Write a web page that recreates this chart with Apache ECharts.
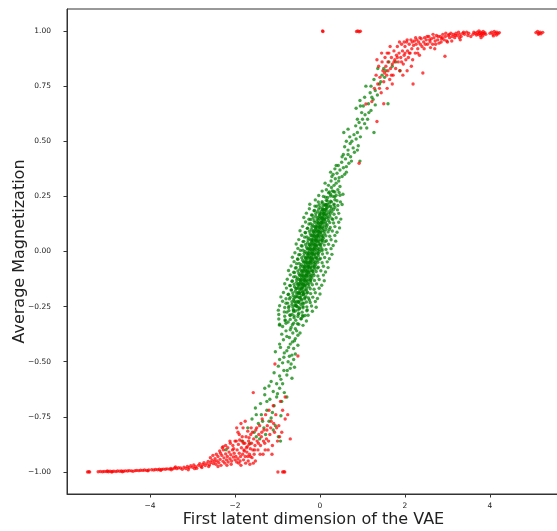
<!DOCTYPE html>
<html>
<head>
<meta charset="utf-8">
<script src="https://cdn.jsdelivr.net/npm/echarts@6/dist/echarts.min.js"></script>
<style>
  html, body { margin: 0; padding: 0; background: #fff; }
  #chart { width: 557px; height: 531px; }
</style>
</head>
<body>
<div id="chart"></div>
<script>
// Tick values
const xTicks = [-4, -2, 0, 2, 4];
const yTicks = [-1, -0.75, -0.5, -0.25, 0, 0.25, 0.5, 0.75, 1];

// Green samples: dense central band
const greenCore = [
[-0.82,-0.31],[-0.70,-0.29],[-0.61,-0.30],[-0.52,-0.295],[-0.44,-0.305],[-0.35,-0.29],
[-0.78,-0.275],[-0.66,-0.285],[-0.58,-0.27],[-0.50,-0.28],[-0.41,-0.29],[-0.62,-0.265],
[-0.74,-0.255],[-0.63,-0.265],[-0.55,-0.25],[-0.48,-0.26],[-0.40,-0.255],[-0.30,-0.265],[-0.59,-0.245],
[-0.80,-0.235],[-0.66,-0.24],[-0.57,-0.245],[-0.51,-0.23],[-0.45,-0.24],[-0.38,-0.235],[-0.53,-0.25],[-0.60,-0.228],
[-0.72,-0.215],[-0.62,-0.22],[-0.54,-0.225],[-0.48,-0.21],[-0.43,-0.22],[-0.36,-0.215],[-0.50,-0.23],[-0.58,-0.205],[-0.25,-0.22],
[-0.75,-0.195],[-0.63,-0.2],[-0.55,-0.205],[-0.49,-0.19],[-0.44,-0.2],[-0.39,-0.195],[-0.33,-0.205],[-0.47,-0.21],[-0.52,-0.188],[-0.41,-0.185],
[-0.68,-0.175],[-0.58,-0.18],[-0.51,-0.185],[-0.45,-0.17],[-0.40,-0.18],[-0.35,-0.175],[-0.29,-0.185],[-0.48,-0.19],[-0.43,-0.165],[-0.55,-0.168],[-0.38,-0.19],
[-0.70,-0.155],[-0.60,-0.16],[-0.52,-0.165],[-0.46,-0.15],[-0.41,-0.16],[-0.37,-0.155],[-0.32,-0.165],[-0.26,-0.16],[-0.44,-0.17],[-0.39,-0.148],[-0.49,-0.158],[-0.34,-0.15],
[-0.66,-0.135],[-0.55,-0.14],[-0.49,-0.145],[-0.43,-0.13],[-0.38,-0.14],[-0.34,-0.135],[-0.29,-0.145],[-0.22,-0.14],[-0.41,-0.15],[-0.36,-0.128],[-0.46,-0.138],[-0.31,-0.13],[-0.52,-0.148],
[-0.62,-0.115],[-0.53,-0.12],[-0.46,-0.125],[-0.40,-0.11],[-0.35,-0.12],[-0.31,-0.115],[-0.26,-0.125],[-0.19,-0.12],[-0.38,-0.13],[-0.33,-0.108],[-0.43,-0.118],[-0.28,-0.11],[-0.49,-0.128],[-0.23,-0.13],
[-0.60,-0.095],[-0.50,-0.1],[-0.43,-0.105],[-0.37,-0.09],[-0.32,-0.1],[-0.28,-0.095],[-0.23,-0.105],[-0.16,-0.1],[-0.35,-0.11],[-0.30,-0.088],[-0.40,-0.098],[-0.25,-0.09],[-0.46,-0.108],[-0.20,-0.11],
[-0.58,-0.075],[-0.47,-0.08],[-0.40,-0.085],[-0.34,-0.07],[-0.29,-0.08],[-0.25,-0.075],[-0.20,-0.085],[-0.13,-0.08],[-0.32,-0.09],[-0.27,-0.068],[-0.37,-0.078],[-0.22,-0.07],[-0.43,-0.088],[-0.17,-0.09],[-0.06,-0.075],
[-0.55,-0.055],[-0.44,-0.06],[-0.37,-0.065],[-0.31,-0.05],[-0.26,-0.06],[-0.22,-0.055],[-0.17,-0.065],[-0.10,-0.06],[-0.29,-0.07],[-0.24,-0.048],[-0.34,-0.058],[-0.19,-0.05],[-0.40,-0.068],[-0.14,-0.07],
[-0.52,-0.035],[-0.41,-0.04],[-0.34,-0.045],[-0.28,-0.03],[-0.23,-0.04],[-0.19,-0.035],[-0.14,-0.045],[-0.07,-0.04],[-0.26,-0.05],[-0.21,-0.028],[-0.31,-0.038],[-0.16,-0.03],[-0.37,-0.048],[-0.11,-0.05],[-0.01,-0.035],
[-0.50,-0.015],[-0.38,-0.02],[-0.31,-0.025],[-0.25,-0.01],[-0.20,-0.02],[-0.16,-0.015],[-0.11,-0.025],[-0.04,-0.02],[-0.23,-0.03],[-0.18,-0.008],[-0.28,-0.018],[-0.13,-0.01],[-0.34,-0.028],[-0.08,-0.03],
[-0.46,0.005],[-0.35,0.0],[-0.28,-0.005],[-0.22,0.01],[-0.17,0.0],[-0.13,0.005],[-0.08,-0.005],[-0.01,0.0],[-0.20,-0.01],[-0.15,0.012],[-0.25,0.002],[-0.10,0.01],[-0.31,-0.008],[-0.05,-0.01],[0.05,0.004],
[-0.42,0.025],[-0.32,0.02],[-0.25,0.015],[-0.19,0.03],[-0.14,0.02],[-0.10,0.025],[-0.05,0.015],[0.02,0.02],[-0.17,0.01],[-0.12,0.032],[-0.22,0.022],[-0.07,0.03],[-0.28,0.012],[-0.02,0.01],
[-0.40,0.045],[-0.29,0.04],[-0.22,0.035],[-0.16,0.05],[-0.11,0.04],[-0.07,0.045],[-0.02,0.035],[0.05,0.04],[-0.14,0.03],[-0.09,0.052],[-0.19,0.042],[-0.04,0.05],[-0.25,0.032],[0.01,0.03],[0.12,0.045],
[-0.36,0.065],[-0.26,0.06],[-0.19,0.055],[-0.13,0.07],[-0.08,0.06],[-0.04,0.065],[0.01,0.055],[0.08,0.06],[-0.11,0.05],[-0.06,0.072],[-0.16,0.062],[-0.01,0.07],[-0.22,0.052],[0.04,0.05],
[-0.34,0.085],[-0.23,0.08],[-0.16,0.075],[-0.10,0.09],[-0.05,0.08],[-0.01,0.085],[0.04,0.075],[0.11,0.08],[-0.08,0.07],[-0.03,0.092],[-0.13,0.082],[0.02,0.09],[-0.19,0.072],[0.07,0.07],
[-0.30,0.105],[-0.20,0.1],[-0.13,0.095],[-0.07,0.11],[-0.02,0.1],[0.02,0.105],[0.07,0.095],[0.14,0.1],[-0.05,0.09],[0.0,0.112],[-0.10,0.102],[0.05,0.11],[-0.16,0.092],[0.22,0.1],
[-0.26,0.125],[-0.17,0.12],[-0.10,0.115],[-0.04,0.13],[0.01,0.12],[0.05,0.125],[0.10,0.115],[0.17,0.12],[-0.02,0.11],[0.03,0.132],[-0.07,0.122],[0.08,0.13],[-0.13,0.112],
[-0.22,0.145],[-0.14,0.14],[-0.07,0.135],[-0.01,0.15],[0.04,0.14],[0.08,0.145],[0.13,0.135],[0.20,0.14],[0.01,0.13],[0.06,0.152],[-0.04,0.142],[0.11,0.15],[0.30,0.145],
[-0.18,0.165],[-0.10,0.16],[-0.04,0.155],[0.02,0.17],[0.07,0.16],[0.11,0.165],[0.16,0.155],[0.23,0.16],[0.04,0.15],[0.09,0.172],[-0.01,0.162],[0.14,0.17],
[-0.14,0.185],[-0.06,0.18],[0.0,0.175],[0.06,0.19],[0.11,0.18],[0.15,0.185],[0.20,0.175],[0.28,0.18],[0.08,0.17],[0.13,0.192],[0.03,0.182],
[-0.08,0.205],[0.0,0.2],[0.06,0.195],[0.12,0.21],[0.17,0.2],[0.21,0.205],[0.27,0.195],[0.35,0.2],[0.10,0.19],[0.15,0.212],
[-0.04,0.225],[0.05,0.22],[0.11,0.215],[0.17,0.23],[0.22,0.22],[0.27,0.225],[0.33,0.215],[0.14,0.21],[0.40,0.23]
];

// Green samples: wider halo around the central band
const greenHalo = [
[-0.95,-0.334],[-0.80,-0.326],[-0.65,-0.332],[-0.53,-0.328],[-0.40,-0.335],
[-0.97,-0.306],[-0.82,-0.314],[-0.70,-0.308],[-0.57,-0.312],[-0.45,-0.305],[-0.32,-0.315],
[-0.97,-0.286],[-0.83,-0.294],[-0.71,-0.288],[-0.61,-0.292],[-0.51,-0.285],[-0.40,-0.295],[-0.28,-0.289],
[-0.98,-0.266],[-0.84,-0.274],[-0.73,-0.268],[-0.62,-0.272],[-0.52,-0.265],[-0.42,-0.275],[-0.31,-0.269],[-0.18,-0.271],
[-0.95,-0.246],[-0.83,-0.254],[-0.73,-0.248],[-0.64,-0.252],[-0.56,-0.245],[-0.48,-0.255],[-0.40,-0.249],[-0.31,-0.251],[-0.20,-0.247],[-0.09,-0.253],
[-0.88,-0.226],[-0.76,-0.234],[-0.66,-0.228],[-0.57,-0.232],[-0.49,-0.225],[-0.41,-0.235],[-0.32,-0.229],[-0.23,-0.231],[-0.11,-0.227],
[-0.92,-0.206],[-0.80,-0.214],[-0.70,-0.208],[-0.61,-0.212],[-0.52,-0.205],[-0.44,-0.215],[-0.36,-0.209],[-0.27,-0.211],[-0.17,-0.207],[-0.06,-0.213],
[-0.86,-0.186],[-0.74,-0.194],[-0.64,-0.188],[-0.55,-0.192],[-0.47,-0.185],[-0.39,-0.195],[-0.31,-0.189],[-0.22,-0.191],[-0.11,-0.187],[0.0,-0.193],
[-0.79,-0.166],[-0.67,-0.174],[-0.57,-0.168],[-0.48,-0.172],[-0.40,-0.165],[-0.32,-0.175],[-0.23,-0.169],[-0.14,-0.171],[-0.02,-0.167],
[-0.83,-0.146],[-0.71,-0.154],[-0.61,-0.148],[-0.52,-0.152],[-0.43,-0.145],[-0.35,-0.155],[-0.27,-0.149],[-0.18,-0.151],[-0.08,-0.147],[0.04,-0.153],
[-0.77,-0.126],[-0.65,-0.134],[-0.55,-0.128],[-0.46,-0.132],[-0.38,-0.125],[-0.30,-0.135],[-0.22,-0.129],[-0.13,-0.131],[-0.02,-0.127],[0.10,-0.133],
[-0.70,-0.106],[-0.58,-0.114],[-0.48,-0.108],[-0.39,-0.112],[-0.31,-0.105],[-0.23,-0.115],[-0.14,-0.109],[-0.05,-0.111],[0.08,-0.107],
[-0.74,-0.086],[-0.62,-0.094],[-0.52,-0.088],[-0.43,-0.092],[-0.34,-0.085],[-0.26,-0.095],[-0.18,-0.089],[-0.09,-0.091],[0.02,-0.087],[0.13,-0.093],
[-0.68,-0.066],[-0.56,-0.074],[-0.46,-0.068],[-0.37,-0.072],[-0.29,-0.065],[-0.21,-0.075],[-0.13,-0.069],[-0.04,-0.071],[0.08,-0.067],[0.19,-0.073],
[-0.61,-0.046],[-0.49,-0.054],[-0.39,-0.048],[-0.30,-0.052],[-0.22,-0.045],[-0.14,-0.055],[-0.05,-0.049],[0.05,-0.051],[0.17,-0.047],
[-0.65,-0.026],[-0.53,-0.034],[-0.43,-0.028],[-0.34,-0.032],[-0.25,-0.025],[-0.17,-0.035],[-0.09,-0.029],[0.01,-0.031],[0.11,-0.027],[0.22,-0.033],
[-0.59,-0.006],[-0.47,-0.014],[-0.37,-0.008],[-0.28,-0.012],[-0.20,-0.005],[-0.12,-0.015],[-0.04,-0.009],[0.06,-0.011],[0.17,-0.007],[0.28,-0.013],
[-0.52,0.014],[-0.40,0.006],[-0.30,0.012],[-0.21,0.008],[-0.13,0.015],[-0.05,0.005],[0.05,0.011],[0.14,0.009],[0.26,0.013],
[-0.56,0.034],[-0.44,0.026],[-0.34,0.032],[-0.25,0.028],[-0.16,0.035],[-0.08,0.025],[0.0,0.031],[0.10,0.029],[0.20,0.033],[0.31,0.027],
[-0.50,0.054],[-0.38,0.046],[-0.28,0.052],[-0.19,0.048],[-0.11,0.055],[-0.03,0.045],[0.06,0.051],[0.15,0.049],[0.26,0.053],[0.37,0.047],
[-0.43,0.074],[-0.31,0.066],[-0.21,0.072],[-0.12,0.068],[-0.04,0.075],[0.05,0.065],[0.14,0.071],[0.23,0.069],[0.35,0.073],
[-0.47,0.094],[-0.35,0.086],[-0.25,0.092],[-0.16,0.088],[-0.07,0.095],[0.02,0.085],[0.10,0.091],[0.19,0.089],[0.29,0.093],[0.40,0.087],
[-0.41,0.114],[-0.29,0.106],[-0.19,0.112],[-0.10,0.108],[-0.02,0.115],[0.07,0.105],[0.15,0.111],[0.24,0.109],[0.35,0.113],[0.46,0.107],
[-0.34,0.134],[-0.22,0.126],[-0.12,0.132],[-0.03,0.128],[0.06,0.135],[0.14,0.125],[0.23,0.131],[0.32,0.129],[0.44,0.133],
[-0.38,0.154],[-0.26,0.146],[-0.16,0.152],[-0.07,0.148],[0.03,0.155],[0.11,0.145],[0.19,0.151],[0.28,0.149],[0.38,0.153],[0.49,0.147],
[-0.32,0.174],[-0.20,0.166],[-0.10,0.172],[-0.01,0.168],[0.08,0.175],[0.16,0.165],[0.24,0.171],[0.33,0.169],[0.44,0.173],
[-0.25,0.194],[-0.13,0.186],[-0.03,0.192],[0.07,0.188],[0.15,0.195],[0.23,0.185],[0.32,0.191],[0.41,0.189],
[-0.24,0.214],[-0.12,0.206],[-0.02,0.212],[0.07,0.208],[0.17,0.215],[0.25,0.205],[0.33,0.211],[0.42,0.209],[0.52,0.213],
[-0.11,0.234],[0.05,0.226],[0.15,0.232],[0.25,0.228],[0.35,0.235],[0.48,0.225],
[-0.03,0.254],[0.13,0.246],[0.25,0.252],[0.35,0.248],[0.47,0.255],
[0.05,0.274],[0.2,0.266],[0.32,0.272],[0.45,0.268]
];

// Green samples: upper branch
const greenUpper = [
[0.08,0.25],[0.18,0.245],[0.25,0.26],[0.31,0.25],[0.38,0.255],[0.22,0.27],[0.29,0.275],[0.35,0.27],[0.15,0.28],[0.42,0.28],[0.27,0.29],[0.33,0.3],[0.47,0.295],[0.20,0.3],[0.38,0.31],[0.54,0.26],
[0.26,0.32],[0.36,0.33],[0.44,0.32],[0.52,0.34],[0.31,0.35],[0.40,0.355],[0.58,0.35],[0.47,0.37],[0.35,0.375],[0.55,0.38],[0.62,0.385],[0.43,0.39],[0.68,0.40],[0.51,0.405],[0.25,0.36],
[0.60,0.42],[0.72,0.43],[0.55,0.44],[0.81,0.45],[0.66,0.46],[0.78,0.47],[0.90,0.48],[0.71,0.49],[0.62,0.5],[0.85,0.51],[0.94,0.41],
[0.70,0.52],[0.80,0.53],[0.88,0.54],[0.56,0.54],[1.27,0.54],[0.96,0.56],[0.84,0.57],[1.05,0.58],[0.92,0.585],[1.12,0.6],[1.00,0.6],
[1.06,0.62],[0.98,0.63],[1.20,0.64],[0.85,0.65],[1.02,0.66],[1.14,0.67],[1.30,0.665],[0.94,0.685],[1.60,0.67],[1.22,0.70],
[1.18,0.72],[1.30,0.73],[1.08,0.75],[1.40,0.76],[1.27,0.78],[1.36,0.83],[1.46,0.80],[1.52,0.79],[1.55,0.82],[1.70,0.84],[1.62,0.86],[1.43,0.77],
[0.12,0.31],[0.45,0.335],[0.28,0.34],[0.62,0.36],[0.38,0.39],[0.74,0.41],[0.52,0.43],[0.66,0.44],[0.88,0.46],[0.58,0.475],[0.75,0.5],[0.95,0.52],
[0.66,0.555],[1.10,0.56],[0.88,0.6],[1.15,0.63],[0.95,0.66],[1.25,0.69],[1.05,0.7],[1.35,0.71],[1.2,0.75],[1.5,0.83],[1.78,0.86],[1.88,0.82]
];

// Green samples: lower branch
const greenLower = [
[-0.75,-0.32],[-0.62,-0.325],[-0.50,-0.33],[-0.95,-0.33],[-0.68,-0.345],[-0.58,-0.35],[-0.80,-0.36],[-0.64,-0.37],[-0.52,-0.38],[-0.72,-0.39],[-0.86,-0.40],[-0.60,-0.405],
[-0.70,-0.42],[-0.93,-0.435],[-0.62,-0.44],[-0.78,-0.45],[-1.05,-0.455],[-0.66,-0.47],[-0.85,-0.48],[-0.62,-0.49],[-0.75,-0.5],
[-0.98,-0.52],[-0.70,-0.53],[-0.85,-0.54],[-1.08,-0.55],[-0.78,-0.56],[-0.92,-0.58],[-0.66,-0.575],[-1.02,-0.6],
[-1.20,-0.61],[-0.95,-0.62],[-1.10,-0.635],[-0.84,-0.64],[-1.30,-0.65],[-1.02,-0.66],[-1.18,-0.67],[-0.90,-0.68],[-1.40,-0.69],[-1.08,-0.70],
[-1.52,-0.71],[-1.25,-0.72],[-1.12,-0.73],[-1.38,-0.74],[-0.92,-0.745],[-1.60,-0.76],[-1.20,-0.77],[-1.45,-0.78],[-1.05,-0.79],[-1.32,-0.80],
[-1.55,-0.82],[-1.28,-0.83],[-0.98,-0.84],[-1.42,-0.85],[-1.65,-0.87],[-1.82,-0.86],[-2.21,-0.899],
[-0.88,-0.34],[-0.55,-0.36],[-0.70,-0.355],[-0.47,-0.37],[-0.90,-0.375],[-0.78,-0.385],[-0.58,-0.395],[-0.65,-0.41],[-0.95,-0.42],[-0.52,-0.425],
[-0.74,-0.435],[-0.84,-0.46],[-0.58,-0.465],[-0.72,-0.475],[-0.95,-0.49],[-0.68,-0.51],[-0.88,-0.505],[-0.60,-0.525],[-0.77,-0.54],[-0.95,-0.565],
[-1.15,-0.59],[-0.88,-0.6],[-1.3,-0.62],[-1.0,-0.645],[-0.78,-0.66],[-1.25,-0.68],[-1.5,-0.74],[-1.15,-0.755],[-1.35,-0.77],[-1.7,-0.8],
[-1.1,-0.81],[-1.5,-0.84],[-0.93,-0.86]
];

// Red samples: saturated tail near -1
const redTail = [
[-5.22,-0.999],[-5.17,-0.998],[-5.12,-0.999],[-5.08,-0.998],[-5.03,-0.998],[-4.98,-0.999],[-4.94,-0.997],[-4.89,-0.998],[-4.85,-0.997],[-4.80,-0.998],
[-4.76,-0.996],[-4.71,-0.997],[-4.67,-0.996],[-4.62,-0.997],[-4.58,-0.995],[-4.53,-0.996],[-4.49,-0.994],[-4.44,-0.995],[-4.35,-0.994],[-4.31,-0.993],
[-4.26,-0.994],[-4.22,-0.992],[-4.17,-0.993],[-4.13,-0.991],[-4.08,-0.993],[-4.03,-0.991],[-3.96,-0.99],[-3.91,-0.991],[-3.87,-0.989],[-3.82,-0.99],
[-3.78,-0.988],[-3.73,-0.989],[-3.69,-0.987],[-3.64,-0.988],[-3.60,-0.986],[-3.55,-0.987],[-3.51,-0.984],[-3.46,-0.986],[-3.42,-0.982],[-3.37,-0.985],
[-3.33,-0.981],[-5.0,-0.996],[-4.9,-1.0],[-4.65,-0.999],[-4.4,-0.997],[-4.05,-0.995],[-3.75,-0.993],[-3.5,-0.99],[-3.4,-0.977],
[-3.28,-0.982],[-3.24,-0.988],[-3.2,-0.978],[-3.16,-0.984],[-3.12,-0.975],[-3.08,-0.981],[-3.04,-0.972],[-3.0,-0.979],[-2.97,-0.968],[-2.93,-0.976],
[-2.9,-0.983],[-2.86,-0.97],[-2.83,-0.962],[-2.8,-0.975],[-2.76,-0.966],[-2.73,-0.958],[-2.7,-0.971],[-2.66,-0.962],[-2.63,-0.952],[-2.6,-0.968],
[-2.57,-0.957],[-2.54,-0.947],[-2.51,-0.962],[-2.48,-0.952],[-3.1,-0.99],[-2.95,-0.985],[-2.78,-0.98],[-2.62,-0.975]
];

// Red samples: lower bend
const redBend = [
[-2.47,-0.94],[-2.45,-0.965],[-2.42,-0.95],[-2.4,-0.93],[-2.38,-0.958],[-2.35,-0.943],[-2.33,-0.97],[-2.31,-0.925],[-2.28,-0.952],[-2.26,-0.936],
[-2.24,-0.96],[-2.22,-0.918],[-2.2,-0.945],[-2.18,-0.93],[-2.16,-0.955],[-2.14,-0.91],[-2.12,-0.94],[-2.1,-0.922],[-2.08,-0.95],[-2.06,-0.9],
[-2.04,-0.932],[-2.02,-0.915],[-2.0,-0.945],[-2.3,-0.89],[-2.28,-0.885],[-2.36,-0.905],[-2.44,-0.92],[-2.19,-0.97],[-2.09,-0.965],[-2.05,-0.88],
[-1.98,-0.93],[-1.96,-0.955],[-1.95,-0.9],[-1.93,-0.94],[-1.92,-0.875],[-1.9,-0.915],[-1.88,-0.95],[-1.87,-0.93],[-1.85,-0.89],[-1.84,-0.86],
[-1.82,-0.92],[-1.8,-0.945],[-1.79,-0.9],[-1.77,-0.87],[-1.76,-0.93],[-1.74,-0.84],[-1.72,-0.91],[-1.71,-0.885],[-1.69,-0.95],[-1.68,-0.86],
[-1.66,-0.92],[-1.64,-0.895],[-1.63,-0.83],[-1.61,-0.87],[-1.6,-0.935],[-1.58,-0.9],[-1.56,-0.85],[-1.55,-0.92],[-1.53,-0.88],[-1.51,-0.81],
[-1.9,-0.83],[-1.81,-0.8],[-1.93,-0.82],[-2.0,-0.86],[-1.75,-0.96],[-1.65,-0.965],[-1.86,-0.97],[-1.7,-0.815],[-1.62,-0.8],[-1.78,-0.905],
[-1.67,-0.875],[-1.57,-0.96],
[-1.48,-0.86],[-1.46,-0.9],[-1.44,-0.83],[-1.42,-0.79],[-1.4,-0.88],[-1.38,-0.84],[-1.36,-0.76],[-1.34,-0.92],[-1.32,-0.81],[-1.3,-0.87],
[-1.28,-0.74],[-1.26,-0.85],[-1.24,-0.79],[-1.22,-0.9],[-1.2,-0.72],[-1.18,-0.83],[-1.15,-0.77],[-1.12,-0.88],[-1.1,-0.7],[-1.07,-0.82],
[-1.04,-0.74],[-1.0,-0.86],[-0.97,-0.79],[-0.93,-0.68],[-0.9,-0.82],[-0.82,-0.66],[-0.82,-0.76],[-0.7,-0.85],[-0.52,-0.474],[-1.06,-0.51],
[-1.57,-0.64],
[-2.58,-0.935],[-2.52,-0.925],[-2.4,-0.975],[-2.34,-0.915],[-2.27,-0.9],[-2.17,-0.89],[-2.11,-0.87],[-2.03,-0.895],[-1.97,-0.86],[-1.91,-0.96],
[-1.89,-0.855],[-1.83,-0.84],[-1.8,-0.87],[-1.73,-0.89],[-1.7,-0.93],[-1.67,-0.845],[-1.64,-0.93],[-1.59,-0.82],[-1.54,-0.9],[-1.52,-0.95],
[-1.49,-0.8],[-1.45,-0.87],[-1.41,-0.92],[-1.37,-0.82],[-1.33,-0.86],[-1.29,-0.9],[-1.25,-0.81],[-1.21,-0.86],[-1.16,-0.8],[-1.13,-0.92],
[-1.09,-0.78],[-1.02,-0.8],[-0.95,-0.84],[-0.88,-0.72],[-0.76,-0.74],[-2.12,-0.86],[-2.22,-0.88],[-1.96,-0.8],[-1.86,-0.78],[-1.76,-0.77]
];

// Red samples: upper bend and plateau near +1
const redTop = [
[1.08,0.669],[1.5,0.67],[1.34,0.59],[0.92,0.40],
[1.32,0.80],[1.36,0.76],[1.38,0.84],[1.41,0.79],[1.44,0.72],[1.46,0.86],[1.48,0.82],[1.5,0.77],[1.53,0.88],[1.55,0.84],
[1.57,0.80],[1.6,0.86],[1.62,0.9],[1.64,0.78],[1.66,0.83],[1.68,0.88],[1.7,0.85],[1.72,0.8],[1.74,0.91],[1.76,0.87],
[1.78,0.83],[1.8,0.89],[1.34,0.87],[1.45,0.9],[1.58,0.74],[1.7,0.76],
[1.82,0.93],[1.84,0.86],[1.86,0.9],[1.88,0.82],[1.9,0.88],[1.92,0.94],[1.94,0.91],[1.96,0.85],[1.98,0.89],[2.0,0.93],
[2.02,0.87],[2.04,0.95],[2.06,0.91],[2.08,0.88],[2.1,0.94],[2.12,0.9],[2.14,0.96],[2.16,0.92],[2.18,0.87],[2.2,0.935],
[2.22,0.955],[2.24,0.9],[2.26,0.94],[2.28,0.96],[2.3,0.92],[2.32,0.95],[2.34,0.89],[2.36,0.94],[2.38,0.965],[2.4,0.93],
[2.42,0.81],[2.44,0.95],[2.46,0.97],[2.48,0.94],[2.19,0.76],[1.95,0.8],[2.15,0.84],[2.05,0.82],
[2.5,0.96],[2.53,0.94],[2.56,0.975],[2.59,0.95],[2.62,0.965],[2.65,0.94],[2.68,0.97],[2.71,0.955],[2.74,0.98],[2.77,0.96],
[2.8,0.945],[2.83,0.975],[2.86,0.965],[2.89,0.985],[2.92,0.96],[2.95,0.975],[2.98,0.955],[2.94,0.886],[2.6,0.925],[2.85,0.95],
[3.02,0.98],[3.05,0.97],[3.08,0.99],[3.11,0.975],[3.14,0.985],[3.17,0.97],[3.2,0.99],[3.23,0.98],[3.26,0.995],[3.29,0.985],
[3.32,0.975],[3.36,0.99],[3.4,0.985],[3.45,0.995],[3.5,0.99],[3.3,0.96],[3.1,0.955],
[1.4,0.74],[1.52,0.81],[1.6,0.82],[1.68,0.8],[1.74,0.86],[1.82,0.88],[1.87,0.95],[1.92,0.86],[2.0,0.9],[2.05,0.96],
[2.1,0.9],[2.17,0.95],[2.25,0.97],[2.3,0.9],[2.35,0.97],[2.45,0.92],[2.52,0.975],[2.58,0.96],[2.66,0.985],[2.72,0.94],
[2.78,0.975],[2.88,0.97],[2.96,0.99],[3.04,0.985],[3.18,0.98],[3.28,0.97],[3.38,0.995],[3.48,0.98],[1.28,0.74],[1.22,0.68],
[1.58,0.9],[1.65,0.93],[1.98,0.95],[2.7,0.92],[3.0,0.95]
];

// Red samples: isolated clusters at exactly saturated magnetization
const redClusters = [
[3.6,0.985],[3.65,0.99],[3.7,0.995],[3.72,0.985],[3.75,0.99],[3.78,0.995],[3.8,0.985],[3.82,0.99],[3.84,0.998],[3.86,0.988],
[3.88,0.993],[3.9,0.985],[3.74,1.0],[3.77,0.98],[3.83,0.978],[3.68,0.982],[3.62,0.995],[3.79,0.97],[3.55,0.975],
[4.0,0.99],[4.04,0.995],[4.07,0.985],[4.1,0.998],[4.13,0.99],[4.16,0.995],[4.19,0.988],[4.22,0.993],[4.08,0.978],[4.15,0.982],
[5.08,0.993],[5.12,0.998],[5.15,0.99],[5.18,0.995],[5.2,0.988],[5.24,0.994],[5.14,0.985],
[0.86,0.998],[0.89,1.0],[0.92,0.997],[0.95,0.999],
[0.06,1.0],[0.07,0.998],
[-5.47,-1.0],[-5.44,-0.999],[-5.42,-1.0],
[-0.88,-1.0],[-0.85,-0.999],[-0.83,-1.0],
[-0.99,-1.0]
];

const greenData = greenCore.concat(greenHalo, greenUpper, greenLower);
const redData = redTail.concat(redBend, redTop, redClusters);

const minusSign = s => s.replace('-', '\u2212');

const chart = echarts.init(document.getElementById('chart'), null, { renderer: 'canvas' });
chart.setOption({
  animation: false,
  backgroundColor: '#ffffff',
  grid: {
    left: 67, top: 9, width: 493, height: 485,
    outerBoundsMode: 'none',
    show: true, borderColor: '#333', borderWidth: 1, backgroundColor: 'transparent'
  },
  xAxis: {
    type: 'value',
    min: -5.953, max: 5.647,
    name: 'First latent dimension of the VAE',
    nameLocation: 'middle', nameGap: 18, nameMoveOverlap: false,
    nameTextStyle: { fontFamily: 'DejaVu Sans', fontSize: 16, color: '#222' },
    axisLine: { show: true, onZero: false, lineStyle: { color: '#333', width: 1 } },
    axisTick: { show: true, customValues: xTicks, length: 3.5, lineStyle: { color: '#333' } },
    axisLabel: {
      customValues: xTicks, margin: 8,
      fontFamily: 'DejaVu Sans', fontSize: 7.5, color: '#222',
      formatter: v => minusSign(String(v))
    },
    splitLine: { show: false }
  },
  yAxis: {
    type: 'value',
    min: -1.1, max: 1.1,
    name: 'Average Magnetization',
    nameLocation: 'middle', nameGap: 39, nameMoveOverlap: false,
    nameTextStyle: { fontFamily: 'DejaVu Sans', fontSize: 16, color: '#222' },
    axisLine: { show: true, onZero: false, lineStyle: { color: '#333', width: 1 } },
    axisTick: { show: true, customValues: yTicks, length: 3.5, lineStyle: { color: '#333' } },
    axisLabel: {
      customValues: yTicks, margin: 16,
      fontFamily: 'DejaVu Sans', fontSize: 7.5, color: '#222',
      formatter: v => minusSign(v.toFixed(2))
    },
    splitLine: { show: false }
  },
  series: [
    {
      type: 'scatter', data: greenData, symbol: 'circle', symbolSize: 3.4,
      itemStyle: { color: '#008000', opacity: 0.72 }, silent: true
    },
    {
      type: 'scatter', data: redData, symbol: 'circle', symbolSize: 3.4,
      itemStyle: { color: '#ff0000', opacity: 0.72 }, silent: true
    }
  ]
});
</script>
</body>
</html>
